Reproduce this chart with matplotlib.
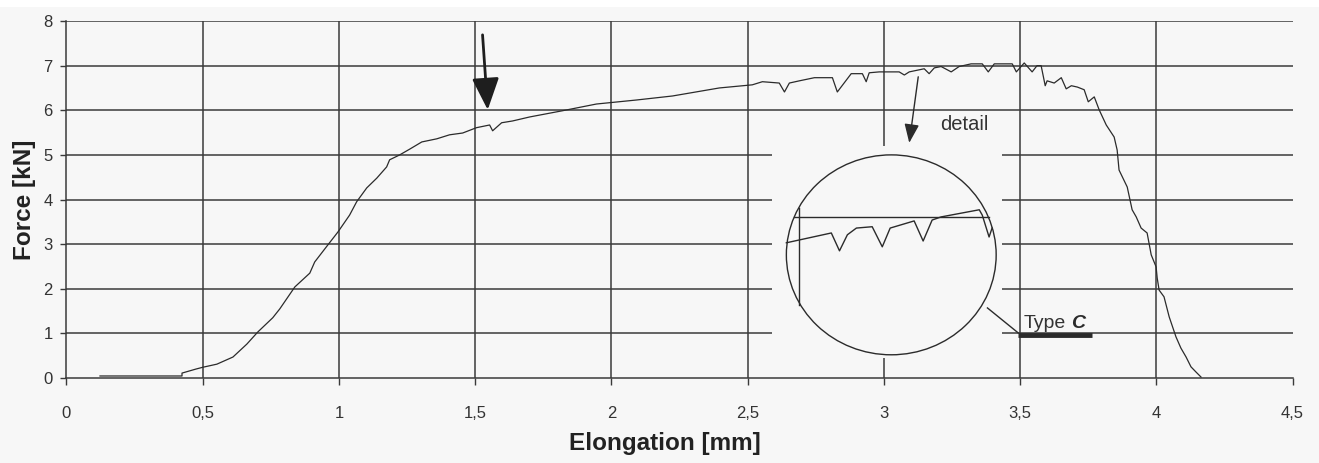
import matplotlib
matplotlib.use("Agg")
import matplotlib.pyplot as plt
from matplotlib.patches import Ellipse, Rectangle

# ---------------- data ----------------
elongation = [0.123, 0.424, 0.424, 0.475, 0.50, 0.552, 0.611, 0.662, 0.702, 0.757, 0.783,
              0.838, 0.893, 0.911, 0.959, 0.996, 1.039, 1.065, 1.102, 1.139, 1.175, 1.186,
              1.223, 1.260, 1.304, 1.359, 1.406, 1.454, 1.505, 1.553, 1.564, 1.597, 1.637,
              1.700, 1.821, 1.945, 2.092, 2.224, 2.396, 2.517, 2.554, 2.616, 2.635, 2.653,
              2.690, 2.745, 2.811, 2.829, 2.880, 2.921, 2.935, 2.946, 2.983, 3.056, 3.075,
              3.093, 3.148, 3.166, 3.185, 3.210, 3.247, 3.276, 3.320, 3.361, 3.383, 3.405,
              3.471, 3.486, 3.515, 3.544, 3.562, 3.577, 3.592, 3.599, 3.625, 3.651, 3.669,
              3.688, 3.710, 3.735, 3.750, 3.772, 3.790, 3.816, 3.845, 3.856, 3.863, 3.893,
              3.911, 3.926, 3.944, 3.966, 3.981, 3.999, 4.003, 4.010, 4.028, 4.047, 4.072,
              4.090, 4.109, 4.127, 4.146, 4.164]
force = [0.045, 0.045, 0.11, 0.20, 0.24, 0.31, 0.47, 0.76, 1.03, 1.35, 1.55,
         2.04, 2.35, 2.60, 2.98, 3.27, 3.65, 3.95, 4.26, 4.48, 4.73, 4.89,
         5.00, 5.13, 5.29, 5.36, 5.45, 5.49, 5.61, 5.67, 5.54, 5.72, 5.76,
         5.85, 5.99, 6.14, 6.23, 6.32, 6.50, 6.57, 6.64, 6.61, 6.41, 6.61,
         6.66, 6.73, 6.73, 6.41, 6.82, 6.82, 6.64, 6.84, 6.86, 6.86, 6.79,
         6.86, 6.93, 6.82, 6.95, 6.98, 6.86, 6.98, 7.04, 7.04, 6.86, 7.04,
         7.04, 6.86, 7.06, 6.86, 7.00, 7.00, 6.55, 6.66, 6.61, 6.73, 6.48,
         6.55, 6.52, 6.46, 6.19, 6.30, 6.01, 5.67, 5.40, 5.11, 4.66, 4.28,
         3.77, 3.61, 3.36, 3.25, 2.76, 2.49, 2.24, 1.97, 1.82, 1.37, 0.92,
         0.67, 0.47, 0.25, 0.13, 0.02]

# magnified detail drawn inside the circle (schematic, in chart units)
detail_x = [2.642, 2.807, 2.837, 2.866, 2.899, 2.957, 2.994, 3.023, 3.111, 3.144,
            3.177, 3.210, 3.350, 3.361, 3.386, 3.397]
detail_y = [3.03, 3.25, 2.85, 3.21, 3.36, 3.39, 2.94, 3.36, 3.52, 3.07,
            3.54, 3.61, 3.77, 3.65, 3.16, 3.36]

x_ticks = [0, 0.5, 1, 1.5, 2, 2.5, 3, 3.5, 4, 4.5]
x_tick_labels = ["0", "0,5", "1", "1,5", "2", "2,5", "3", "3,5", "4", "4,5"]
y_ticks = [0, 1, 2, 3, 4, 5, 6, 7, 8]
y_tick_labels = [str(v) for v in y_ticks]

# ---------------- figure ----------------
BG = "#f7f7f7"
INK = "#2b2b2b"
GRID = "#3a3a3a"

fig = plt.figure(figsize=(13.19, 4.63), dpi=100, facecolor=BG)
ax = fig.add_axes([0.0504, 0.1836, 0.9296, 0.7710])
ax.set_facecolor(BG)
fig.patches.append(Rectangle((0, 1 - 7 / 463), 1, 7 / 463, transform=fig.transFigure,
                             facecolor="white", edgecolor="none", zorder=0))

ax.set_xlim(0, 4.5)
ax.set_ylim(0, 8)

# grid
for xv in x_ticks[1:-1]:
    ax.axvline(xv, color=GRID, lw=1.1, zorder=1)
for yv in y_ticks[1:]:
    ax.axhline(yv, color=GRID, lw=1.1, zorder=1)

# mask area behind the magnifier
ax.add_patch(Rectangle((2.591, 0.45), 3.434 - 2.591, 5.20 - 0.45, facecolor=BG,
                       edgecolor="none", zorder=2))

# main curve
ax.plot(elongation, force, color=INK, lw=0.9, zorder=4)

# magnifier circle
ax.add_patch(Ellipse((3.027, 2.76), 0.770, 4.48, facecolor="none", edgecolor=INK,
                     lw=1.0, zorder=4))
ax.plot(detail_x, detail_y, color=INK, lw=1.0, zorder=4)
ax.plot([2.671, 3.386], [3.61, 3.61], color=INK, lw=1.0, zorder=4)
ax.plot([2.690, 2.690], [3.81, 1.64], color=INK, lw=1.0, zorder=4)

# "Type C" label
ax.plot([3.380, 3.493], [1.57, 1.01], color=INK, lw=1.0, zorder=4)
ax.plot([3.493, 3.764], [0.96, 0.96], color=INK, lw=3.5, solid_capstyle="butt", zorder=4)
t_type = ax.text(3.512, 1.04, "Type", fontsize=14, color="#333333", ha="left",
                 va="bottom", family="Liberation Sans", zorder=5)
ax.annotate("C", xy=(1, 0), xycoords=t_type, xytext=(4, 0), textcoords="offset points",
            fontsize=14, color=INK, ha="left", va="bottom", family="Liberation Sans",
            fontweight="bold", fontstyle="italic", zorder=5)

# "detail" label and arrow
ax.text(3.205, 5.67, "detail", fontsize=14.5, color="#333333", ha="left", va="center",
        family="Liberation Sans", zorder=5)
ax.annotate("", xy=(3.093, 5.27), xytext=(3.126, 6.75),
            arrowprops=dict(arrowstyle="-|>,head_length=1.15,head_width=0.45",
                            mutation_scale=10, lw=1.0, color=INK,
                            shrinkA=0, shrinkB=0), zorder=5)

# big arrow
ax.annotate("", xy=(1.546, 6.01), xytext=(1.527, 7.69),
            arrowprops=dict(arrowstyle="-|>,head_length=1.95,head_width=0.83",
                            mutation_scale=10, lw=2.0, color="#1e1e1e",
                            shrinkA=0, shrinkB=0), zorder=5)

# axes styling
for side in ("top", "right"):
    ax.spines[side].set_visible(False)
for side in ("left", "bottom"):
    ax.spines[side].set_color(GRID)
    ax.spines[side].set_linewidth(1.1)
ax.spines["left"].set_zorder(6)
ax.spines["bottom"].set_zorder(6)

ax.set_xticks(x_ticks)
ax.set_xticklabels(x_tick_labels)
ax.set_yticks(y_ticks)
ax.set_yticklabels(y_tick_labels)
ax.tick_params(axis="x", direction="out", length=5, width=1.0, color=GRID, pad=15,
               labelsize=12, labelcolor="#333333")
ax.tick_params(axis="y", direction="out", length=4, width=1.0, color=GRID, pad=6,
               labelsize=12, labelcolor="#333333")
for lab in ax.get_xticklabels() + ax.get_yticklabels():
    lab.set_family("Liberation Sans")

ax.set_xlabel("Elongation [mm]", fontsize=17.5, fontweight="bold", color="#222222",
              family="Liberation Sans")
ax.xaxis.set_label_coords(0.488, -0.151)
ax.set_ylabel("Force [kN]", fontsize=17.5, fontweight="bold", color="#222222",
              family="Liberation Sans")
ax.yaxis.set_label_coords(-0.0246, 0.5)

fig.savefig("out.png", dpi=100, facecolor=BG)
